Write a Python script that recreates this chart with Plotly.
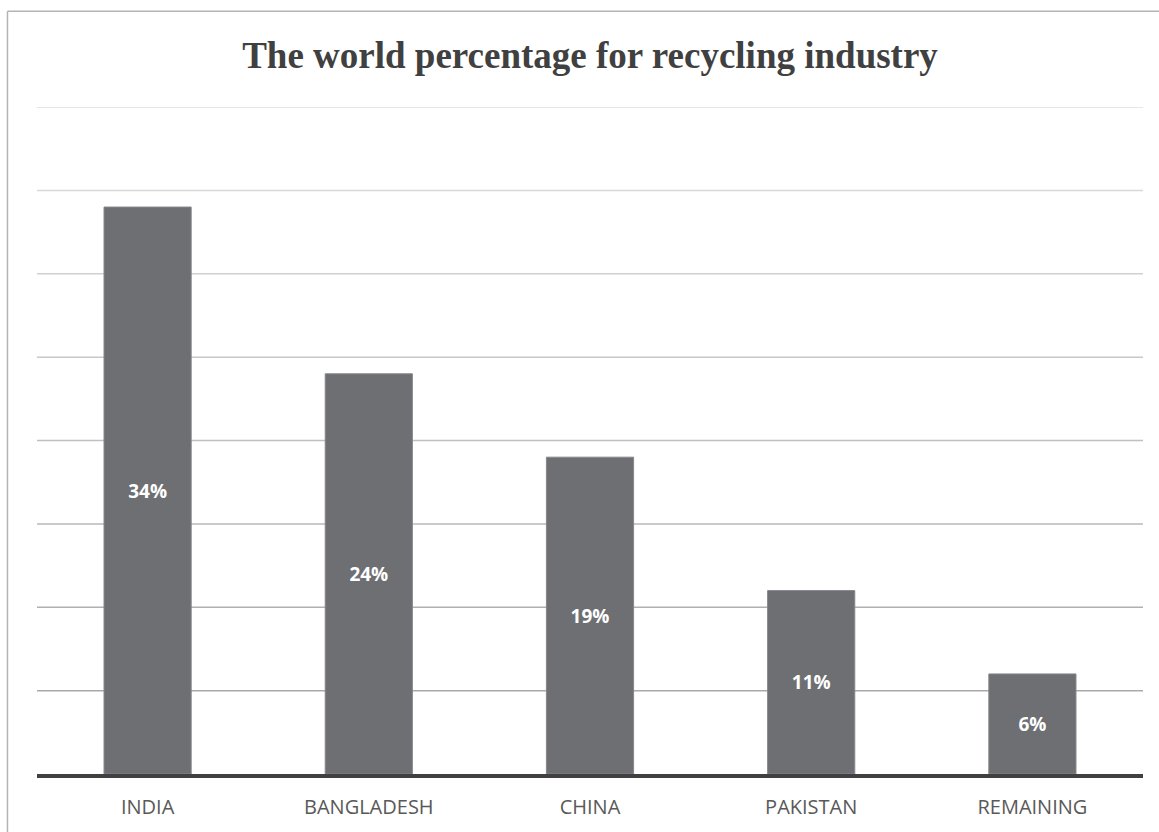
import plotly.graph_objects as go

# Share of the world recycling industry by country
countries = ["INDIA", "BANGLADESH", "CHINA", "PAKISTAN", "REMAINING"]
shares = [34, 24, 19, 11, 6]
grid_values = [5, 10, 15, 20, 25, 30, 35, 40]
grid_colors = ["#a9a9a9", "#b0b0b0", "#b8b8b8", "#c0c0c0", "#c8c8c8", "#d0d0d0", "#d8d8d8", "#dedede"]

fig = go.Figure()
fig.add_trace(go.Bar(
    x=countries,
    y=shares,
    text=[f"{v}%" for v in shares],
    textposition="inside",
    insidetextanchor="middle",
    textfont=dict(family="Open Sans", size=19, color="white", weight="bold"),
    marker=dict(color="#6e6f73", line=dict(color="#85868a", width=1)),
    hoverinfo="skip",
))

# horizontal gridlines, fading toward the top
for v, c in zip(grid_values, grid_colors):
    fig.add_shape(type="line", xref="paper", yref="y", x0=0, x1=1, y0=v, y1=v,
                  line=dict(color=c, width=1.5), layer="below")

# frame on left and top edges
fig.add_shape(type="line", xref="paper", yref="paper", x0=-0.0267, x1=-0.0267, y0=-0.2, y1=1.1435,
              line=dict(color="#b4b4b4", width=1.5))
fig.add_shape(type="line", xref="paper", yref="paper", x0=-0.0267, x1=1.1, y0=1.1435, y1=1.1435,
              line=dict(color="#b4b4b4", width=1.5))

fig.update_layout(
    width=1159, height=832,
    margin=dict(l=37, r=16, t=107, b=56),
    paper_bgcolor="white", plot_bgcolor="white",
    bargap=0.606,
    showlegend=False,
    title=dict(
        text="The world percentage for recycling industry",
        x=0.5, xref="paper", xanchor="center",
        y=0.934, yref="container", yanchor="middle",
        font=dict(family="Liberation Serif", size=37, color="#404040", weight="bold"),
    ),
    xaxis=dict(
        showgrid=False, zeroline=False, ticks="",
        showline=True, linecolor="#404040", linewidth=3.5,
        tickfont=dict(family="Open Sans", size=20, color="#595959"),
        ticklabelstandoff=12,
    ),
    yaxis=dict(
        range=[0, 40], showgrid=False, zeroline=False, showline=False,
        showticklabels=False, ticks="",
    ),
)

fig.write_html("out.html")
